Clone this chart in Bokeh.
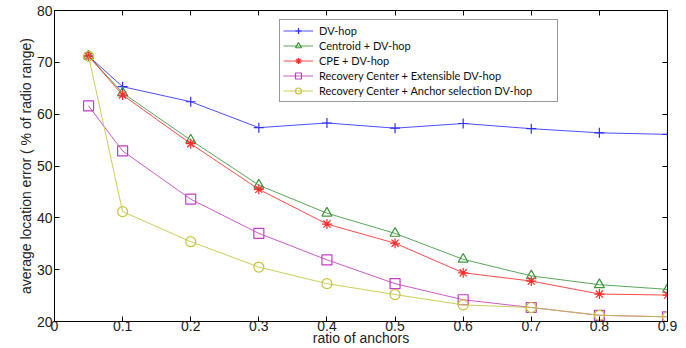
from bokeh.plotting import figure
from bokeh.models import LinearAxis, Legend, LegendItem, FixedTicker, Range1d
from bokeh.embed import file_html
from bokeh.resources import INLINE

ratios = [0.05, 0.1, 0.2, 0.3, 0.4, 0.5, 0.6, 0.7, 0.8, 0.9]
dv_hop = [71.2, 65.3, 62.4, 57.4, 58.3, 57.3, 58.2, 57.2, 56.4, 56.1]
centroid = [71.2, 64.1, 55.0, 46.3, 40.9, 37.0, 32.0, 28.8, 27.1, 26.2]
cpe = [71.2, 63.7, 54.3, 45.5, 38.8, 35.1, 29.4, 27.8, 25.3, 25.1]
rc_ext = [61.6, 52.9, 43.6, 37.0, 31.9, 27.3, 24.2, 22.7, 21.2, 20.9]
rc_anchor = [71.2, 41.2, 35.4, 30.5, 27.3, 25.2, 23.2, 22.7, 21.2, 20.9]

series = [
    ("DV-hop", dv_hop, "#2f2fff", "cross"),
    ("Centroid + DV-hop", centroid, "#3c963c", "triangle"),
    ("CPE + DV-hop", cpe, "#ff2a2a", "asterisk"),
    ("Recovery Center + Extensible DV-hop", rc_ext, "#c43cc4", "square"),
    ("Recovery Center + Anchor selection DV-hop", rc_anchor, "#c4c43c", "circle"),
]

x_ticks = [0, 0.1, 0.2, 0.3, 0.4, 0.5, 0.6, 0.7, 0.8, 0.9]
y_ticks = [20, 30, 40, 50, 60, 70, 80]

p = figure(width=686, height=348, output_backend="svg", toolbar_location=None,
           x_range=Range1d(0, 0.9), y_range=Range1d(20, 80),
           min_border_left=54, min_border_right=19, min_border_top=10, min_border_bottom=0)
p.xgrid.visible = False
p.ygrid.visible = False
p.outline_line_color = "black"
p.outline_line_width = 1

FONT = "Liberation Sans"
for ax in p.xaxis + p.yaxis:
    ax.major_tick_in = 5
    ax.major_tick_out = 0
    ax.minor_tick_out = 0
    ax.minor_tick_in = 0
    ax.axis_line_color = "black"
    ax.major_label_text_font = FONT
    ax.major_label_text_font_size = "14px"
    ax.major_label_text_color = "#222222"
    ax.axis_label_text_font = FONT
    ax.axis_label_text_font_size = "14px"
    ax.axis_label_text_font_style = "normal"
    ax.axis_label_text_color = "#222222"

p.xaxis.ticker = FixedTicker(ticks=x_ticks)
p.yaxis.ticker = FixedTicker(ticks=y_ticks)
p.xaxis.axis_label = "ratio of anchors"
p.yaxis.axis_label = "average location error ( % of radio range)"
p.xaxis.major_label_standoff = -1
p.xaxis.axis_label_standoff = -4
p.yaxis.major_label_standoff = 2
p.yaxis.axis_label_standoff = 0

top = LinearAxis(ticker=FixedTicker(ticks=x_ticks),
                 major_label_overrides={t: "" for t in x_ticks},
                 major_label_text_font_size="1px",
                 major_tick_in=5, major_tick_out=0, minor_tick_in=0, minor_tick_out=0,
                 major_label_standoff=0)
right = LinearAxis(ticker=FixedTicker(ticks=y_ticks),
                   major_label_overrides={t: "" for t in y_ticks},
                   major_label_text_font_size="1px",
                   major_tick_in=5, major_tick_out=0, minor_tick_in=0, minor_tick_out=0,
                   major_label_standoff=0)
p.add_layout(top, "above")
p.add_layout(right, "right")

items = []
for name, vals, color, marker in series:
    r1 = p.line(ratios, vals, line_color=color, line_width=1, line_alpha=0.85)
    r2 = p.scatter(ratios, vals, marker=marker, size=10, line_color=color,
                   fill_color=None, line_width=1.2)
    items.append(LegendItem(label=name, renderers=[r1, r2]))

legend = Legend(items=items, location=(225, 219), label_text_font="Lato",
                label_text_font_size="11px", label_text_color="#111111",
                glyph_width=30, glyph_height=15, spacing=0, padding=3,
                label_standoff=6, label_width=235, border_line_color="#333333",
                background_fill_color="white", background_fill_alpha=1.0)
p.add_layout(legend, "center")

open("out.html", "w").write(file_html(p, INLINE))
